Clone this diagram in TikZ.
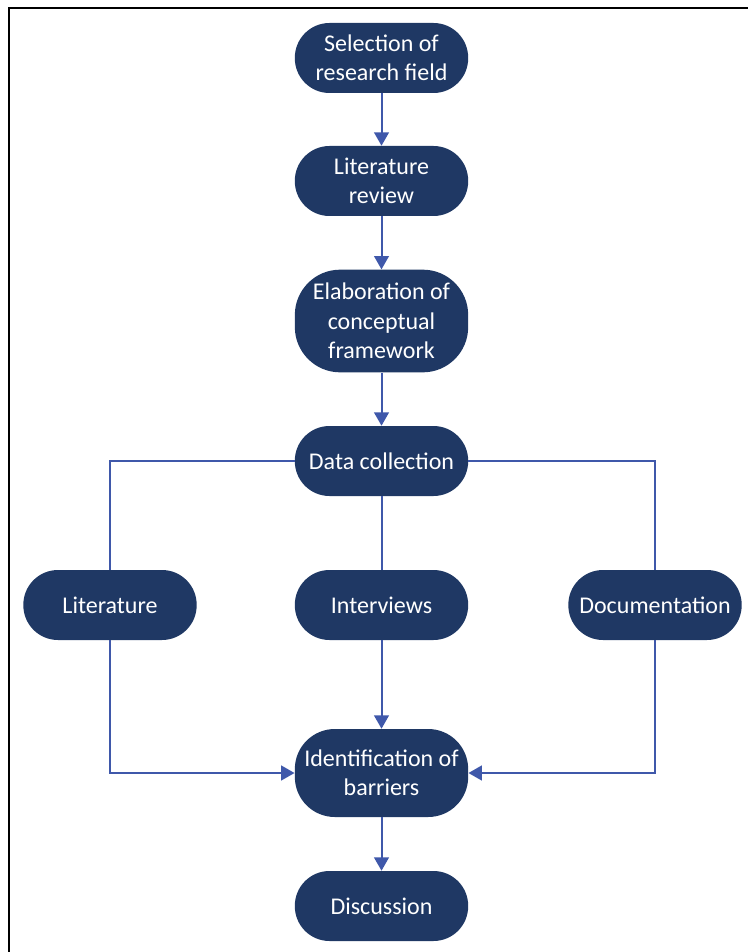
\documentclass[tikz,border=0pt]{standalone}
\usepackage{fontspec}
\setmainfont{Carlito}
\usepackage{tikz}
\usetikzlibrary{arrows.meta,positioning}

\definecolor{boxnavy}{RGB}{31,56,100}
\definecolor{flowblue}{RGB}{63,88,170}

\begin{document}
\begin{tikzpicture}[x=0.75pt,y=-0.75pt,
  stage/.style={rectangle,rounded corners=26pt,fill=boxnavy,text=white,
    minimum width=130pt,minimum height=52.5pt,align=center,inner sep=2pt,
    font=\fontsize{18}{22}\selectfont},
  flow/.style={draw=flowblue,line width=1.5pt},
  flowarrow/.style={flow,-{Triangle[length=10pt,width=11pt]}}]
\useasboundingbox (0,0) rectangle (747,952);
\draw[line width=2.2pt] (9,980) -- (9,8) -- (780,8);
% steps
\node[stage] (select) at (381.5,58) {Selection of\\research field};
\node[stage] (review) at (381.5,181) {Literature\\review};
\node[stage,minimum height=77pt,rounded corners=34pt] (frame) at (381.5,321) {Elaboration of\\conceptual\\framework};
\node[stage] (collect) at (381.5,461) {Data collection};
\node[stage] (lit) at (110,605) {Literature};
\node[stage] (interv) at (381.5,605) {Interviews};
\node[stage] (docs) at (655,605) {Documentation};
\node[stage,minimum height=66pt,rounded corners=30pt] (barriers) at (381.5,773) {Identification of\\barriers};
\node[stage] (discuss) at (381.5,906) {Discussion};
% connectors
\draw[flowarrow] (select) -- (review);
\draw[flowarrow] (review) -- (frame);
\draw[flowarrow] (frame) -- (collect);
\draw[flow] (collect.west) -| (lit.north);
\draw[flow] (collect.east) -| (docs.north);
\draw[flow] (collect) -- (interv);
\draw[flowarrow] (interv) -- (barriers);
\draw[flowarrow] (lit.south) |- (barriers.west);
\draw[flowarrow] (docs.south) |- (barriers.east);
\draw[flowarrow] (barriers) -- (discuss);
\end{tikzpicture}
\end{document}
